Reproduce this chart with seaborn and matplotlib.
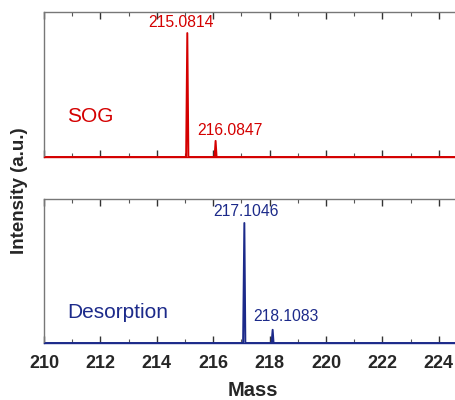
import matplotlib
matplotlib.use("Agg")
import matplotlib.pyplot as plt
import seaborn as sns
import pandas as pd
from matplotlib.ticker import MultipleLocator

sns.set_style("ticks")
plt.rcParams['font.family'] = ['Liberation Sans', 'DejaVu Sans']

# ---- data ----
sog_mass = [210.0, 215.04, 215.0814, 215.12, 216.05, 216.0847, 216.12, 226.0]
sog_int = [0.0, 0.0, 1.00, 0.0, 0.0, 0.13, 0.0, 0.0]
des_mass = [210.0, 217.06, 217.1046, 217.14, 218.07, 218.1083, 218.14, 226.0]
des_int = [0.0, 0.0, 1.00, 0.0, 0.0, 0.11, 0.0, 0.0]

sog_peaks = [215.0814, 216.0847]
sog_peak_int = [1.00, 0.13]
des_peaks = [217.1046, 218.1083]
des_peak_int = [1.00, 0.11]

panel_names = ["SOG", "Desorption"]
colors = ["#d40000", "#1c2a8a"]
xticks = [210, 212, 214, 216, 218, 220, 222, 224]

W, H = 456, 400
fig = plt.figure(figsize=(W / 100, H / 100), dpi=100)
xmin, xmax = 210, 225.6
ppu = 28.2
left = 44 / W
width = (xmax - xmin) * ppu / W
ax_top = fig.add_axes([left, (H - 157) / H, width, 145 / H])
ax_bot = fig.add_axes([left, (H - 343) / H, width, 144 / H])

# label offsets (points) relative to each peak apex
sog_offsets = [(-4.3, 2.5), (10, 2)]
des_offsets = [(1.5, 3), (9.5, 4.5)]

specs = [
    (ax_top, sog_mass, sog_int, sog_peaks, sog_peak_int, sog_offsets, 1.17, 117),
    (ax_bot, des_mass, des_int, des_peaks, des_peak_int, des_offsets, 1.20, 312),
]

for i, (ax, m, it, pk, pki, offs, ytop, namey) in enumerate(specs):
    df = pd.DataFrame({"Mass": m, "Intensity": it})
    sns.lineplot(data=df, x="Mass", y="Intensity", ax=ax, color=colors[i],
                 linewidth=1.4, sort=False, estimator=None)
    ax.set_xlim(xmin, xmax)
    ax.set_ylim(0, ytop)
    ax.set_yticks([])
    ax.set_xlabel("")
    ax.set_ylabel("")
    ax.xaxis.set_major_locator(MultipleLocator(2))
    ax.xaxis.set_minor_locator(MultipleLocator(1))
    ax.tick_params(axis="x", which="major", direction="in", length=5, width=1,
                   top=True, bottom=True, color="#333333")
    ax.tick_params(axis="x", which="minor", direction="in", length=3, width=0.8,
                   top=True, bottom=True, color="#555555")
    for s in ax.spines.values():
        s.set_color("#777777")
        s.set_linewidth(1.0)
    ax.spines["bottom"].set_color(colors[i])
    for (x, y), (dx, dy) in zip(zip(pk, pki), offs):
        ax.annotate(f"{x:.4f}", xy=(x, y), xytext=(dx, dy),
                    textcoords="offset points",
                    ha="center", va="bottom", color=colors[i], fontsize=11.3)
    ax.text(67 / W, 1 - namey / H, panel_names[i], transform=fig.transFigure,
            color=colors[i], fontsize=15, ha="left", va="center")

ax_top.set_xticklabels([])
ax_bot.set_xticks(xticks)
ax_bot.set_xticklabels([str(t) for t in xticks], fontsize=13, fontweight="bold")
ax_bot.tick_params(axis="x", which="major", pad=9)
ax_bot.set_xlabel("Mass", fontsize=14.5, fontweight="bold")
ax_bot.xaxis.set_label_coords((253 - 44) / (width * W), -(390 - 343) / 144)
ax_bot.xaxis.label.set_verticalalignment("center")

fig.text(20 / W, 1 - 191 / H, "Intensity (a.u.)", rotation=90, ha="center",
         va="center", fontsize=13.5, fontweight="bold")

fig.savefig("out.png", dpi=100)
